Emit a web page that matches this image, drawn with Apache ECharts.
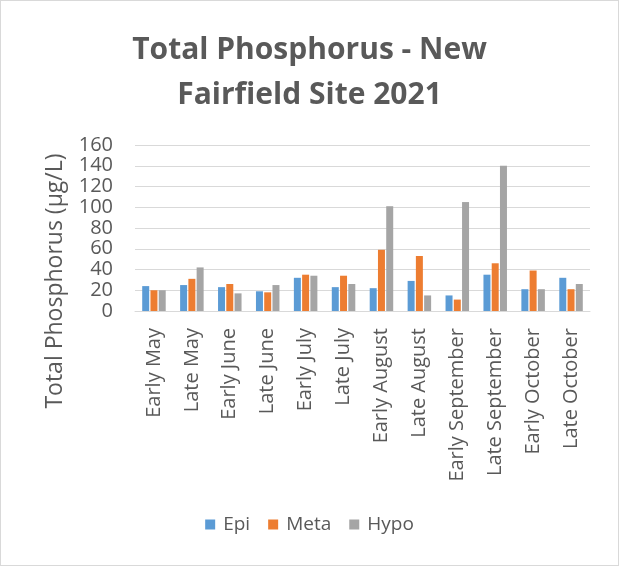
<!DOCTYPE html>
<html>
<head>
<meta charset="utf-8">
<script src="https://cdn.jsdelivr.net/npm/echarts@6/dist/echarts.min.js"></script>
<style>
html,body{margin:0;padding:0;background:#fff;}
#c{width:619px;height:566px;box-sizing:border-box;border:1px solid #d9d9d9;}
</style>
</head>
<body>
<div id="c"></div>
<script>
const categories = ['Early May','Late May','Early June','Late June','Early July','Late July','Early August','Late August','Early September','Late September','Early October','Late October'];
const epi  = [24, 25, 23, 19, 32, 23, 22, 29, 15, 35, 21, 32];
const meta = [20, 31, 26, 18, 35, 34, 59, 53, 11, 46, 39, 21];
const hypo = [20, 42, 17, 25, 34, 26, 101, 15, 105, 140, 21, 26];
const yTicks = [0, 20, 40, 60, 80, 100, 120, 140, 160];

const font = 'Open Sans';
const txt = '#595959';
const chart = echarts.init(document.getElementById('c'));
chart.setOption({
  animation: false,
  textStyle: {fontFamily: font},
  title: {
    text: 'Total Phosphorus - New\nFairfield Site 2021',
    left: 'center', top: 22,
    textStyle: {fontFamily: font, fontSize: 30, fontWeight: 'bold', color: txt, lineHeight: 45}
  },
  legend: {
    bottom: 26, left: 'center',
    itemWidth: 10, itemHeight: 10, itemGap: 18,
    icon: 'rect',
    textStyle: {fontFamily: font, fontSize: 19, color: txt, padding: [0,0,0,3]},
    data: ['Epi','Meta','Hypo']
  },
  graphic: [{
    type: 'text',
    rotation: Math.PI/2,
    x: 54, y: 280,
    style: {text: 'Total Phosphorus (µg/L)', fontFamily: font, fontSize: 23, fill: txt, align: 'center', verticalAlign: 'middle'}
  }],
  grid: {left: 134, right: 28, top: 144, bottom: 254},
  xAxis: {
    type: 'category', data: categories,
    axisLine: {lineStyle: {color: '#d9d9d9', width: 1}},
    axisTick: {show: false},
    axisLabel: {rotate: 90, color: txt, fontSize: 20, fontFamily: font, margin: 17, interval: 0}
  },
  yAxis: {
    type: 'value', min: 0, max: 160, interval: 20,
    axisLine: {show: false}, axisTick: {show: false},
    splitLine: {lineStyle: {color: '#d9d9d9', width: 1}},
    axisLabel: {color: txt, fontSize: 20, fontFamily: font, margin: 22,
      formatter: v => yTicks.includes(v) ? String(v) : ''}
  },
  series: [
    {name: 'Epi', type: 'bar', data: epi, itemStyle: {color: '#5B9BD5'}, barGap: '18%', barCategoryGap: '38%'},
    {name: 'Meta', type: 'bar', data: meta, itemStyle: {color: '#ED7D31'}},
    {name: 'Hypo', type: 'bar', data: hypo, itemStyle: {color: '#A5A5A5'}}
  ]
});
</script>
</body>
</html>
